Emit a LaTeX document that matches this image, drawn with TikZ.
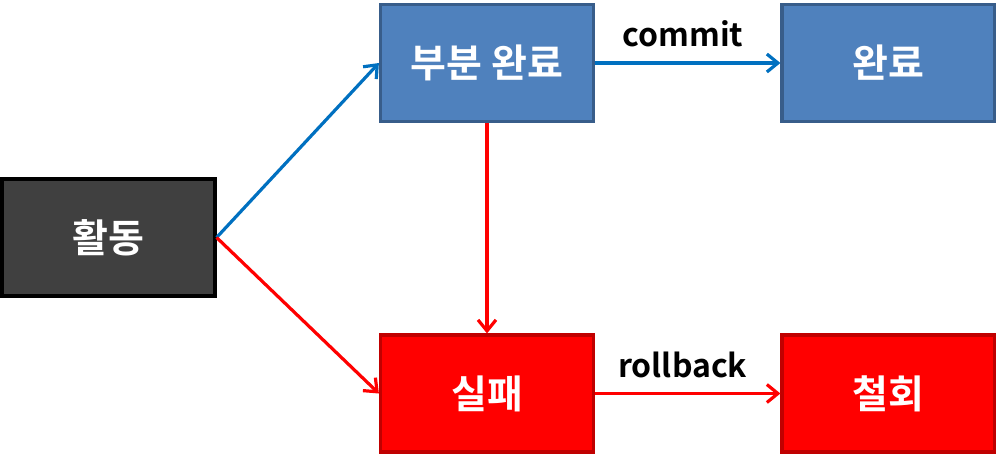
\documentclass[tikz,border=0pt]{standalone}
\usepackage{fontspec}
\setmainfont{Noto Sans}
\newfontfamily\krb{Noto Sans CJK KR Bold}
\usetikzlibrary{arrows.meta}
\definecolor{bfill}{HTML}{4F81BD}
\definecolor{bline}{HTML}{385D8A}
\definecolor{rfill}{HTML}{FF0000}
\definecolor{rline}{HTML}{C00000}
\definecolor{dfill}{HTML}{404040}
\definecolor{barrow}{HTML}{0070C0}
\definecolor{rarrow}{HTML}{FF0000}
\tikzset{
  box/.style={rectangle, line width=3.2pt, minimum width=213pt, minimum height=117pt,
    inner sep=0pt, text=white, font=\krb\fontsize{39}{46}\selectfont},
  bluebox/.style={box, fill=bfill, draw=bline},
  redbox/.style={box, fill=rfill, draw=rline},
  darkbox/.style={box, fill=dfill, draw=black},
  conn/.style={line width=3.2pt, -{Straight Barb[length=11pt,width=18pt,line width=3.2pt]}},
  bconn/.style={conn, draw=barrow},
  rconn/.style={conn, draw=rarrow},
  lbl/.style={font=\krb\fontsize{32}{38}\selectfont, text=black, xshift=-5pt}
}
\begin{document}
\begin{tikzpicture}[x=1pt,y=-1pt]
\useasboundingbox (0,0) rectangle (996,455);
\node[darkbox] (act) at (108.5,237.5) {활동};
\node[bluebox] (part) at (487,63) {부분\hspace{0.25em}완료};
\node[bluebox] (done) at (888.5,63) {완료};
\node[redbox] (fail) at (487,393.5) {실패};
\node[redbox] (abort) at (888.5,393.5) {철회};
\draw[bconn] (act.east) -- (part.west);
\draw[rconn] (act.east) -- (fail.west);
\draw[rconn] (part.south) -- (fail.north);
\draw[bconn] (part.east) -- node[lbl, above=11pt] {commit} (done.west);
\draw[rconn] (fail.east) -- node[lbl, above=11pt] {rollback} (abort.west);
\end{tikzpicture}
\end{document}
